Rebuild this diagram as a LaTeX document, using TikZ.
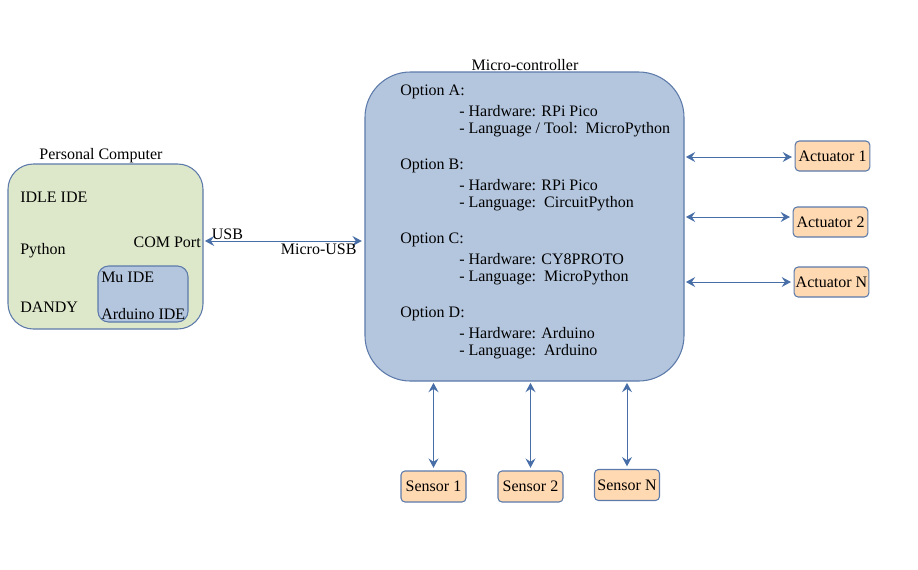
\documentclass[tikz,border=0pt]{standalone}
\usepackage{fontspec}
\setmainfont{Liberation Serif}
\usepackage{xcolor}
\usetikzlibrary{positioning,calc,arrows.meta}

\definecolor{pcfill}{RGB}{221,231,202}
\definecolor{mcfill}{RGB}{180,198,222}
\definecolor{peach}{RGB}{255,217,178}
\definecolor{edgecol}{RGB}{92,122,170}
\definecolor{linkcol}{RGB}{72,110,168}

\tikzset{
    bigbox/.style={draw=edgecol, line width=0.8pt, inner sep=0pt},
    iobox/.style={draw=edgecol, line width=0.8pt, fill=peach, rounded corners=3pt,
        minimum width=56pt, minimum height=22.5pt, inner sep=1pt},
    txt/.style={anchor=west, inner sep=0pt},
    link/.style={draw=linkcol, line width=0.75pt,
        {Stealth[length=7pt,width=7.5pt,inset=2.5pt]}-{Stealth[length=7pt,width=7.5pt,inset=2.5pt]},
        shorten <=1pt, shorten >=2pt},
}

\begin{document}
\begin{tikzpicture}[x=0.75pt,y=-0.75pt, font=\fontsize{12}{14}\selectfont]
    \useasboundingbox (0,0) rectangle (918,569);

    % Personal computer
    \node[bigbox, fill=pcfill, rounded corners=19pt, minimum width=146.25pt, minimum height=123.75pt] (pc) at (105.5,246.5) {};
    \node[anchor=south, inner sep=0pt] (pclabel) at (101,163) {Personal Computer};
    \node[txt] (idle) at (20,197) {IDLE IDE};
    \node[txt] (python) at (20,251) {Python};
    \node[txt] (dandy) at (20,307) {DANDY};
    \node[anchor=east, inner sep=0pt] (com) at (201,242) {COM Port};
    \node[bigbox, fill=mcfill, rounded corners=8pt, minimum width=67.5pt, minimum height=42pt] (ide) at (143,294) {};
    \node[txt] (mu) at (101,277) {Mu IDE};
    \node[txt] (arduinoide) at (101,314) {Arduino IDE};

    % Micro-controller
    \node[bigbox, fill=mcfill, rounded corners=34pt, minimum width=239.25pt, minimum height=231.75pt] (mc) at (524.5,226.5) {};
    \node[anchor=south, inner sep=0pt] (mclabel) at (525,71) {Micro-controller};
    \foreach \y/\opt/\hw/\lang in {92/A/RPi Pico/{Language / Tool:~~MicroPython},
                                   166/B/RPi Pico/{Language:~~CircuitPython},
                                   240/C/CY8PROTO/{Language:~~MicroPython},
                                   314/D/Arduino/{Language:~~Arduino}} {
        \node[txt] (opt\opt) at (400,\y) {Option \opt:};
        \node[txt] (hw\opt) at (459,\y+19) {- Hardware: \hw};
        \node[txt] (lang\opt) at (459,\y+38) {- \lang};
    }

    % Actuators
    \foreach \n/\x/\y/\ay/\t in {1/832.5/156/157/Actuator 1, 2/830.5/222/217/Actuator 2, 3/831.5/282/282/Actuator N} {
        \node[iobox] (act\n) at (\x,\y) {\t};
        \coordinate (actin\n) at (act\n.west |- 0,\ay);
        \draw[link] (actin\n -| mc.east) -- (actin\n);
    }

    % Sensors
    \foreach \n/\x/\y/\t in {1/433.5/486.5/Sensor 1, 2/530.5/486.5/Sensor 2, 3/627/485/Sensor N} {
        \node[iobox, minimum width=48.75pt, minimum height=23.25pt] (sen\n) at (\x,\y) {\t};
        \draw[link] (sen\n.north |- mc.south) -- (sen\n.north);
    }

    % USB link
    \draw[link] (pc.east |- 0,241) -- (mc.west |- 0,241)
        node[pos=0.04, anchor=south west, inner sep=1pt] (usb) {USB}
        node[pos=0.97, anchor=north east, inner sep=2pt] (microusb) {Micro-USB};
\end{tikzpicture}
\end{document}
